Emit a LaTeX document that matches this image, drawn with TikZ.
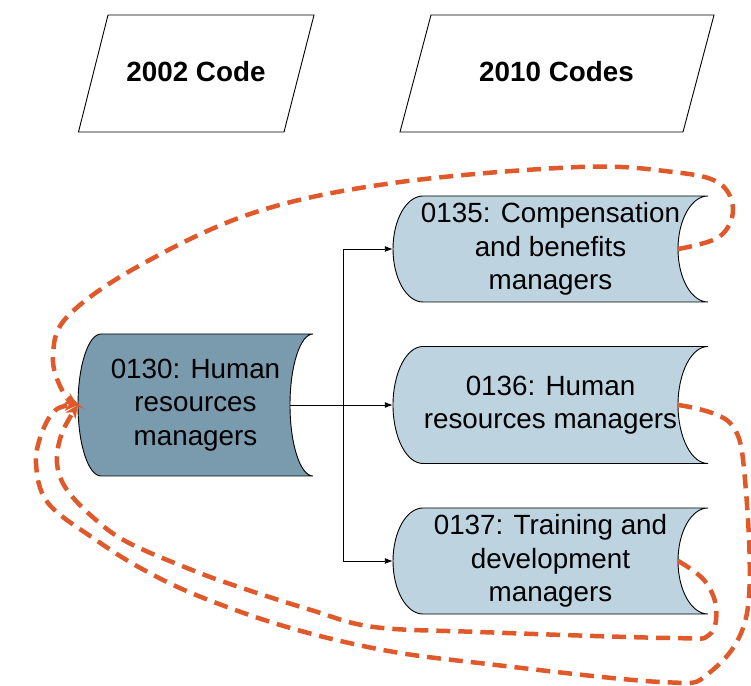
\documentclass[tikz,border=0pt]{standalone}
\usepackage{fontspec}
\setmainfont{Liberation Sans}
\usetikzlibrary{arrows.meta,calc}
\definecolor{darkfill}{HTML}{7A9AAE}
\definecolor{lightfill}{HTML}{BED3E0}
\definecolor{orng}{HTML}{E0592A}
\tikzset{
  txt/.style={font=\fontsize{27.8}{33.5}\selectfont, align=center, inner sep=0pt},
  head/.style={font=\bfseries\fontsize{27.8}{33.5}\selectfont, inner sep=0pt},
  frame/.style={draw=black, line width=0.9pt},
  link/.style={draw=black, line width=0.9pt, -{Latex[length=8pt,width=6pt]}},
  remap/.style={draw=orng, line width=4.5pt, dash pattern=on 14pt off 8pt,
    -{Stealth[length=13pt,width=12pt,inset=4pt]}},
}
% name, cx, cy, width, height, arc depth, fill, text
\newcommand\storeddata[8]{%
  \path[frame, fill=#7] ($(#2,#3)+(-#4/2+#6,#5/2)$) -- ++(#4-#6,0)
    arc[start angle=90, end angle=270, x radius=#6, y radius=#5/2]
    -- ++(-#4+#6,0)
    arc[start angle=270, end angle=90, x radius=#6, y radius=#5/2] -- cycle;
  \node[txt, minimum width=#4pt, minimum height=#5pt] (#1) at (#2,#3) {#8};
}
\begin{document}
\begin{tikzpicture}[x=1pt,y=1pt]
\useasboundingbox (0,0) rectangle (751,685);
% headers
\draw[frame] (108,670) -- (314,670) -- (284,553) -- (78.5,553) -- cycle;
\node[head] (h2002) at (196,613) {2002 Code};
\draw[frame] (431,670) -- (714,670) -- (683,553) -- (400,553) -- cycle;
\node[head] (h2010) at (556.5,613) {2010 Codes};
% stored data nodes
\storeddata{n130}{195.5}{280}{235}{142}{23}{darkfill}{0130: Human\\resources\\managers}
\storeddata{n135}{550.5}{436}{315}{106}{30}{lightfill}{0135: Compensation\\and benefits\\managers}
\storeddata{n136}{550.5}{280}{315}{117}{30}{lightfill}{0136: Human\\resources managers}
\storeddata{n137}{550.5}{124}{315}{106}{30}{lightfill}{0137: Training and\\development\\managers}
% connectors
\coordinate (o130) at ($(n130.east)+(-23,0)$);
\coordinate (jn) at (343,280);
\draw[link] (o130) -- (n136.west);
\draw[link] (jn) |- (n135.west);
\draw[link] (jn) |- (n137.west);
% remapping curves
\coordinate (s135) at ($(n135.east)+(-30,0)$);
\coordinate (s136) at ($(n136.east)+(-30,0)$);
\coordinate (s137) at ($(n137.east)+(-30,0)$);
\draw[remap] plot[smooth, tension=0.6] coordinates {(s135) (719,448) (733,475) (719,502) (673,513) (579,518) (393,502) (253,472) (137,418) (67,368) (53,328) (62,295) (n130.west)};
\draw[remap] plot[smooth, tension=0.6] coordinates {(s136) (730,262) (745,205) (747,72) (709,12) (661,3) (479,22) (383,35) (287,58) (201,88) (144,115) (96,145) (48,182) (36,222) (43,255) (57,276) (n130.west)};
\draw[remap] plot[smooth, tension=0.6] coordinates {(s137) (704,105) (716,78) (709,50) (670,47) (479,53) (374,58) (311,75) (239,98) (192,115) (129,142) (96,165) (67,195) (57,222) (62,252) (n130.west)};
\end{tikzpicture}
\end{document}
